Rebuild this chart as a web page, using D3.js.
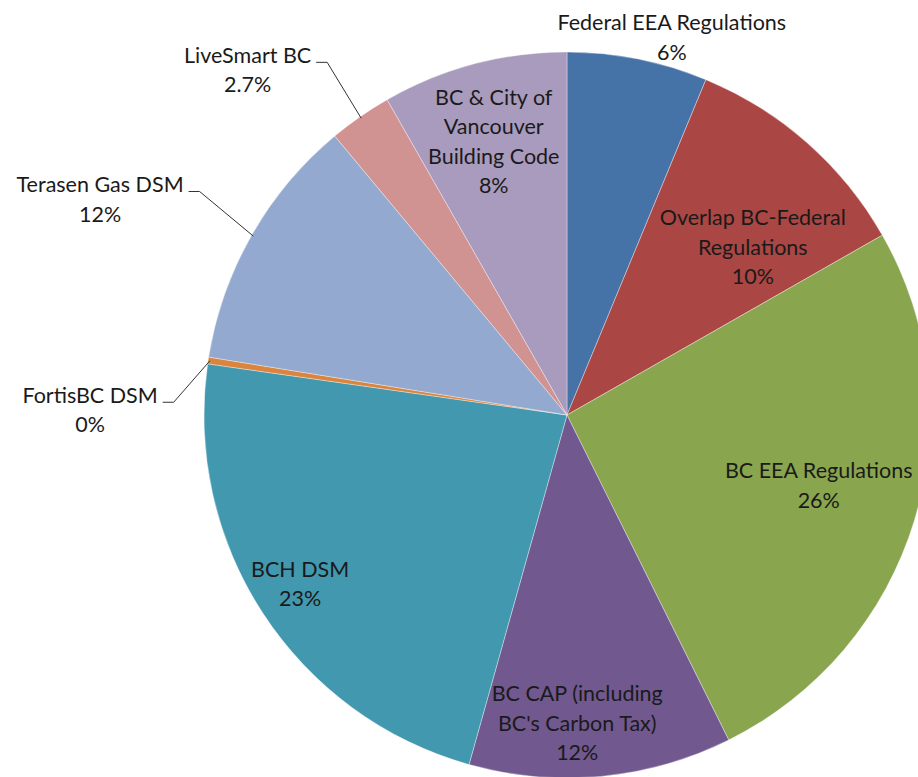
<!DOCTYPE html>
<html>
<head>
<meta charset="utf-8">
<script src="https://cdn.jsdelivr.net/npm/d3@7"></script>
<style>
  body { margin: 0; background: #fff; }
  text { font-family: Lato, "Open Sans", sans-serif; font-size: 21.5px; fill: #1a1a1a; }
</style>
</head>
<body>
<div class="chart"></div>
<script>
// slices, clockwise from 12 o'clock
const categories = ["Federal EEA Regulations", "Overlap BC-Federal Regulations", "BC EEA Regulations",
  "BC CAP (including BC's Carbon Tax)", "BCH DSM", "FortisBC DSM", "Terasen Gas DSM", "LiveSmart BC",
  "BC & City of Vancouver Building Code"]
const values = [6.25, 10.5, 25.9, 11.7, 22.9, 0.3, 11.4, 2.8, 8.25]
const pctLabels = ["6%", "10%", "26%", "12%", "23%", "0%", "12%", "2.7%", "8%"]
const labelLines = [
  ["Federal EEA Regulations"],
  ["Overlap BC-Federal", "Regulations"],
  ["BC EEA Regulations"],
  ["BC CAP (including", "BC's Carbon Tax)"],
  ["BCH DSM"],
  ["FortisBC DSM"],
  ["Terasen Gas DSM"],
  ["LiveSmart BC"],
  ["BC & City of", "Vancouver", "Building Code"]
]
const colors = ["#4572A7", "#AA4643", "#89A54E", "#71588F", "#4198AF", "#DB843D", "#93A9CF", "#D19392", "#A99BBD"]

const width = 918, height = 777
const cx = 567, cy = 415, R = 363

// label placement: angle (deg, clockwise from top) and distance as fraction of R
const labelPos = [
  { a: 15.5, r: 1.08 },
  { a: 47.9, r: 0.69 },
  { a: 105.6, r: 0.72 },
  { a: 178.1, r: 0.85 },
  { a: 237.7, r: 0.87 },
  { a: 270.6, r: 1.314, leader: true },
  { a: 294.8, r: 1.417, leader: true },
  { a: 317.2, r: 1.295, leader: true },
  { a: 345, r: 0.78 }
]

const svg = d3.select('.chart').append('svg')
  .attr('width', width)
  .attr('height', height)

const g = svg.append('g').attr('transform', `translate(${cx},${cy})`)

const pie = d3.pie().sort(null).value(d => d)
const arcs = pie(values)
const arc = d3.arc().innerRadius(0).outerRadius(R)

g.selectAll('path.slice')
  .data(arcs)
  .enter()
  .append('path')
  .attr('class', 'slice')
  .attr('d', arc)
  .attr('fill', (d, i) => colors[i])
  .attr('stroke', 'rgba(255,255,255,0.45)')
  .attr('stroke-width', 0.8)

const rad = deg => deg * Math.PI / 180
const polar = (deg, r) => [r * Math.sin(rad(deg)), -r * Math.cos(rad(deg))]
const lineH = 29.5

arcs.forEach((d, i) => {
  const p = labelPos[i]
  const lines = labelLines[i].concat([pctLabels[i]])
  const [x, y] = polar(p.a, p.r * R)
  const t = g.append('text')
    .attr('text-anchor', 'middle')
    .attr('x', x)
    .attr('y', y - (lines.length - 1) * lineH / 2)
  lines.forEach((s, k) => {
    t.append('tspan')
      .attr('x', x)
      .attr('dy', k === 0 ? '0.35em' : lineH)
      .text(s)
  })
  if (p.leader) {
    // leader line from label to middle of the slice edge
    const mid = (d.startAngle + d.endAngle) / 2 * 180 / Math.PI
    const [ex, ey] = polar(mid, R * 0.995)
    const textW = t.select('tspan').node().getComputedTextLength()
    const lx = x + textW / 2 + 5
    const ly = y - (lines.length - 1) * lineH / 2 + 7
    g.append('polyline')
      .attr('points', [[lx, ly], [lx + 11, ly], [ex, ey]].map(q => q.join(',')).join(' '))
      .attr('fill', 'none')
      .attr('stroke', '#333')
      .attr('stroke-width', 1)
  }
})
</script>
</body>
</html>
